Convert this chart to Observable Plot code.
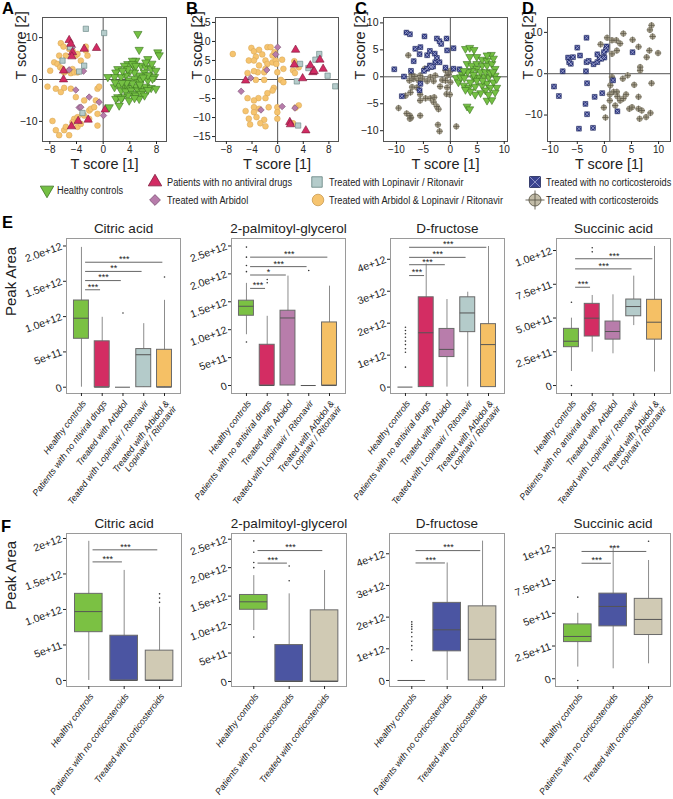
<!DOCTYPE html>
<html><head><meta charset="utf-8">
<script src="https://cdn.jsdelivr.net/npm/d3@7"></script>
<script src="https://cdn.jsdelivr.net/npm/@observablehq/plot@0.6"></script>
<style>
body{margin:0;background:#fff;font-family:"Liberation Sans",Arial,sans-serif;}
#fig{position:relative;width:673px;height:799px;overflow:hidden;background:#fff;}
.abs{position:absolute;}
</style></head>
<body><div id="fig"></div>
<script>
// ---------------- DATA ----------------
// Panel A (OPLS-DA scores: antiviral groups + healthy)
const A_healthy = [[5.2,10.9],[5.4,7.1],[8.2,6.5],[6.7,4.9],[4.9,4.5],[3.7,3.7],[4.4,4.5],[3.2,3.3],[2.2,2.5],[1.9,1.7],[4.7,2.9],[5.7,3.3],[6.4,2.9],[7.2,2.5],[7.9,2.1],[6.2,1.7],[6.9,1.0],[7.7,0.6],[5.4,1.0],[4.7,1.7],[3.9,1.7],[3.4,1.0],[2.7,0.6],[1.7,0.6],[0.7,0.6],[3.9,-0.2],[4.7,0.2],[5.2,-0.6],[5.7,-0.2],[6.7,-0.2],[7.4,0.2],[1.7,-1.8],[2.4,-1.4],[3.2,-1.7],[3.7,-2.0],[4.4,-2.0],[4.9,-1.7],[5.7,-2.0],[6.4,-1.7],[7.2,-2.0],[7.9,-2.2],[2.7,-2.6],[3.4,-2.8],[4.2,-2.6],[5.2,-2.6],[5.9,-2.8],[6.7,-2.5],[4.4,-3.4],[3.7,-3.8],[2.9,-4.2],[2.2,-4.2],[1.9,-4.6],[2.7,-4.6],[4.9,-3.8],[5.7,-3.4],[6.2,-3.8],[5.4,-4.6],[3.9,-5.0],[0.9,-6.6],[2.4,-6.2],[4.7,-4.4],[6.7,1.0],[4.4,3.7],[4.9,3.3],[3.7,2.5],[2.9,2.1],[6.0,0.5],[4.4,-0.9],[3.5,-0.8],[2.8,-0.8],[1.8,-0.7],[5.5,-1.2],[8.4,5.8],[7.3,3.8],[6.4,4.1]];
const A_noAntiviral = [[-5.1,9.4],[-4.85,8.5],[-4.6,6.5],[-4.7,5.5],[-2.85,7.3],[-1.0,7.5],[-5.95,2.1],[-5.95,0],[-4.75,-11.2],[-3.75,-9.9],[-2.25,-9.6],[0.3,-7.2]];
const A_arbidol = [[-4.6,7.7],[-2.95,2.0],[-4.1,-2.5],[-2.1,-4.2],[-3.6,-6.7],[-3.35,-6.6],[-0.6,-5.4],[0.05,-8.6],[-5.1,2.3]];
const A_lpv = [[-2.6,12.1],[0.15,11.1],[-4.95,7.7],[-6.1,4.5],[-2.85,3.3],[-3.6,1.9],[-3.1,-8.0]];
const A_arbLpv = [[-6.35,8.65],[-5.95,7.85],[-5.1,7.3],[-4.6,6.9],[-4.1,5.7],[-3.85,6.1],[-2.6,7.85],[-2.6,6.9],[-2.35,5.7],[-3.35,4.5],[-6.6,5.7],[-5.6,5.7],[-7.35,4.1],[-6.85,3.7],[-6.45,2.9],[-6.1,2.5],[-5.85,1.7],[-5.1,2.1],[-4.6,2.5],[-4.85,1.5],[-4.35,1.7],[-3.85,1.7],[-7.95,2.1],[-8.35,-1.7],[-7.1,-2.2],[-6.35,-3.0],[-5.85,-2.0],[-4.85,-2.2],[-4.1,-4.2],[-2.85,-5.0],[-2.1,-7.4],[-1.85,-7.0],[-1.35,-6.6],[-0.85,-2.2],[-0.6,-1.7],[-1.1,-5.0],[-0.85,-8.2],[-4.35,-9.4],[-4.6,-10.2],[-3.1,-8.2],[-2.85,-8.6],[-3.85,-9.0],[-7.6,-9.9],[-7.1,-12.1],[-6.6,-13.3],[-5.85,-12.1],[-5.1,-13.3],[-5.6,-11.3],[-3.85,-11.3],[-2.1,-9.4],[-0.85,-11.0],[-3.35,-10.6]];

// Panel B (patients only, antiviral groups)
const B_noAntiviral = [[2.8,7.8],[2.6,3.9],[3.9,0.3],[5.1,3.7],[5.5,1.9],[5.7,2.2],[7.1,2.8],[6.6,5.2],[1.9,-11.2],[2.0,-11.8],[4.4,-13.4],[-5.0,-0.3]];
const B_arbidol = [[0,8.5],[-0.3,6.6],[-1.7,2.5],[-4.2,0.4],[-5.7,-3.1],[-2.6,-8.0],[0.7,-7.1],[2.7,-7.5]];
const B_lpv = [[6.5,6.7],[5.9,5.2],[3.5,4.1],[4.8,3.0],[7.8,1.0],[3.0,-0.5],[9.0,-1.8],[3.2,-12.1]];
const B_arbLpv = [[-7.0,6.7],[-4.1,8.3],[-3.7,7.4],[-2.9,7.8],[-3.4,6.0],[-4.5,5.0],[-3.7,5.0],[-2.4,6.6],[-1.6,8.5],[-1.1,8.5],[-0.8,6.3],[-0.5,7.2],[-1.9,5.0],[-2.9,3.7],[-1.6,4.1],[-0.8,4.5],[-0.3,5.0],[-0.2,4.1],[0.7,5.2],[0.9,2.8],[-0.05,1.9],[0.5,-0.1],[-1.9,2.8],[-2.1,1.9],[-3.1,1.9],[-3.7,2.2],[-4.7,1.7],[-3.4,-0.1],[-2.1,-0.1],[0.9,-0.7],[-0.6,-2.2],[-0.8,-2.9],[-1.6,-3.6],[-1.9,-4.9],[-3.0,-4.9],[-4.7,-4.9],[-3.7,-5.5],[-3.7,-7.3],[-2.9,-7.7],[-3.7,-8.6],[-5.0,-8.3],[-3.3,-9.9],[-4.5,-10.3],[-4.3,-11.8],[-2.1,-10.6],[-2.7,-11.5],[-1.9,-12.3],[-1.4,-7.3],[-0.05,-7.3],[-0.05,-8.6],[3.3,-6.8],[2.8,-7.4],[3.3,3.2],[2.4,2.4],[2.7,1.7],[2.6,4.8],[2.4,-11.5],[-0.05,-10.3]];

// Panel C (corticosteroid groups + healthy)
const C_healthy = [[2.8,5.2],[3.6,5.4],[4.4,5.0],[7.6,4.1],[4.9,3.7],[5.9,3.2],[6.8,3.0],[3.1,2.4],[4.0,2.1],[4.9,2.4],[5.9,2.1],[6.8,2.1],[7.7,2.4],[8.3,1.5],[4.9,1.5],[4.0,1.1],[3.2,0.9],[2.2,0.4],[1.1,-0.2],[1.5,-1.0],[2.5,-1.6],[3.4,-2.0],[4.6,-1.8],[5.9,-1.6],[6.8,-1.2],[8.0,-1.0],[7.1,-0.06],[6.2,0.06],[5.2,-0.06],[4.3,-0.2],[5.6,0.9],[6.5,0.9],[7.4,0.7],[8.3,0.25],[8.6,-0.4],[8.6,-2.0],[7.4,-2.0],[6.5,-2.5],[5.6,-3.0],[4.6,-3.3],[3.7,-2.7],[2.8,-2.4],[3.1,-5.5],[3.6,-6.0],[6.8,-4.4],[7.7,-4.3],[7.1,-3.3],[8.3,-2.9],[4.9,-0.7],[3.7,-1.0],[1.9,-0.06],[2.5,1.1],[6.8,4.0],[8.0,3.4],[3.6,3.7],[2.6,-0.2],[4.3,0.4],[6.0,-0.7],[7.9,0.9]];
const C_noCort = [[-8.15,8.2],[-7.5,7.9],[-4.8,7.5],[-5.55,5.5],[-6.5,5.2],[-5.7,4.2],[-4.3,4.0],[-6.8,2.9],[-3.8,4.8],[-2.5,7.1],[-2.0,6.6],[-1.7,6.1],[-0.7,7.1],[-2.9,4.3],[-2.5,3.5],[-2.8,2.7],[-3.8,2.1],[-4.3,1.5],[-4.9,1.1],[-3.6,1.8],[-3.2,1.9],[-7.3,1.1],[-10.4,1.4],[-8.6,0.05],[-5.55,-1.3],[-5.7,-2.5],[-9.0,-3.6],[-0.6,4.9],[0.6,5.3],[-2.0,2.7],[-0.9,1.7],[0.6,1.5],[1.7,1.4]];
const C_cort = [[-7.8,4.0],[-7.2,0.4],[-6.9,-0.4],[-7.6,-0.7],[-5.9,-0.7],[-5.2,-0.4],[-4.3,-0.8],[-3.1,-0.8],[-1.5,-0.6],[-0.9,-0.7],[-6.2,-2.0],[-7.1,-1.9],[-7.4,-2.9],[-8.3,-3.5],[-9.6,-5.8],[-8.1,-6.8],[-7.5,-7.2],[-7.3,-7.6],[-7.5,-7.8],[-5.6,-7.2],[-5.6,-4.4],[-4.6,-4.0],[-3.7,-4.0],[-3.0,-3.8],[-3.1,-4.7],[-2.5,-5.5],[-2.2,-6.0],[-5.6,-3.3],[-0.6,-2.0],[-0.7,-3.2],[-0.1,-3.3],[0,1.1],[-0.3,0.4],[-1.9,-1.8],[-2.3,-8.9],[-2.0,-10.1],[1.1,-9.2],[-6.6,0.06],[-4.75,1.5],[-5.6,0.25],[-3.7,-0.06],[-2.8,0.25],[-0.9,1.2],[-0.6,0.25],[0,-1.0]];

// Panel D (patients only, corticosteroid groups)
const D_noCort = [[-5.0,6.3],[-5.8,4.0],[-6.7,3.9],[-6.5,2.8],[-6.2,2.4],[-7.7,0.6],[-4.5,4.4],[-3.4,0.6],[-3.3,2.8],[-2.9,3.1],[-2.0,2.3],[-1.3,2.8],[-0.9,3.9],[-1.3,4.7],[-0.6,3.6],[0,3.9],[0.4,6.6],[0.3,5.8],[5.2,5.2],[-3.3,8.7],[-9.3,-3.1],[-8.4,-5.4],[-3.2,-2.3],[-3.5,-7.3],[-3.2,-9.8],[-1.8,-5.6],[-0.4,-4.7],[1.6,-1.6],[2.4,-9.1],[-4.7,-13.3],[-2.1,-13.1],[-0.1,5.2]];
const D_cort = [[0.5,8.7],[1.4,8.1],[3.5,9.7],[5.2,8.2],[8.7,11.7],[8.4,10.6],[8.9,9.0],[8.3,5.6],[9.9,5.0],[6.3,6.5],[7.8,4.0],[6.6,1.6],[6.6,0.8],[8.7,-2.3],[4.3,-0.4],[3.4,-1.2],[1.4,-0.8],[1.1,-2.8],[1.7,-4.4],[1.0,-5.0],[2.3,-4.4],[2.4,-5.5],[2.9,-6.5],[3.5,-6.0],[4.0,-5.0],[4.6,-8.5],[5.1,-8.1],[6.3,-8.5],[6.9,-8.9],[6.5,-10.9],[7.7,-10.5],[8.5,-9.5],[6.3,-5.6],[-0.1,-8.2],[0.2,-10.6],[-0.7,7.1],[2.3,5.6],[1.4,4.8],[2.9,7.3],[2.2,8.1],[2.0,-7.7],[1.0,-6.5],[5.5,-2.7]];
const D_cross = [1, 0];

// Box-plot panels: rows = categories, [whiskerLow, Q1, median, Q3, whiskerHigh]
const eCats = [0, 1, 2, 3, 4];
const eColors = ["#7bc143", "#d32d63", "#b87dab", "#b4cbca", "#f5c065"];
const eLabelsCitric = ["Healthy controls", "Patients with no ntiviral drugs", "Treated with Arbidol", "Teated with Lopinavir / Ritonavir", "Treated with Arbidol &\nLopinavir / Ritonavir"];
const eLabels = ["Healthy controls", "Patients with no antiviral drugs", "Treated with Arbidol", "Teated with Lopinavir / Ritonavir", "Treated with Arbidol &\nLopinavi / Ritonavir"];

const eCitricBox = [[0, 0.686e12, 0.977e12, 1.228e12, 1.98e12], [0, 0, 0, 0.65e12, 0.99e12], [0, 0, 0, 0, 0], [0, 0, 0.46e12, 0.54e12, 0.9e12], [0, 0, 0, 0.53e12, 1.23e12]];
const eCitricOut = [[2, 1.05e12], [4, 1.56e12]];
const eCitricSig = [[0, 4, 1.77e12, "***"], [0, 3, 1.64e12, "**"], [0, 2, 1.51e12, "***"], [0, 1, 1.38e12, "***"]];
const eCitricYTicks = [0, 5e11, 1e12, 1.5e12, 2e12];
const eCitricYLabels = ["0", "5e+11", "1.0e+12", "1.5e+12", "2.0e+12"];

const ePalmBox = [[0.91e12, 1.25e12, 1.42e12, 1.52e12, 1.83e12], [0, 0, 0, 0.73e12, 1.24e12], [0, 0, 1.21e12, 1.34e12, 1.96e12], [0, 0, 0, 0, 0], [0, 0, 0, 1.13e12, 1.78e12]];
const ePalmOut = [[0, 2.48e12], [0, 2.30e12], [0, 2.15e12], [0, 2.04e12], [0, 0.78e12], [1, 1.9e12], [1, 1.84e12], [3, 2.06e12]];
const ePalmSig = [[0, 4, 2.30e12, "***"], [0, 3, 2.13e12, "***"], [0, 2, 1.98e12, "*"], [0, 1, 1.74e12, "***"]];
const ePalmYTicks = [0, 5e11, 1e12, 1.5e12, 2e12, 2.5e12];
const ePalmYLabels = ["0", "5e+11", "1.0e+12", "1.5e+12", "2.0e+12", "2.5e+12"];

const eFrucBox = [[0, 0, 0, 0, 0], [0, 0, 1.7e12, 2.81e12, 3.85e12], [0, 0.94e12, 1.18e12, 1.82e12, 2.74e12], [0, 1.72e12, 2.32e12, 2.81e12, 2.97e12], [0, 0, 1.33e12, 1.97e12, 4.4e12]];
const eFrucOut = [[0, 1.875e12], [0, 1.77e12], [0, 1.67e12], [0, 1.56e12], [0, 1.44e12], [0, 1.33e12], [0, 1.2e12], [0, 1.09e12], [0, 0.625e12]];
const eFrucSig = [[0, 4, 4.375e12, "***"], [0, 3, 4.06e12, "***"], [0, 2, 3.83e12, "***"], [0, 1, 3.49e12, "***"]];
const eFrucYTicks = [0, 1e12, 2e12, 3e12, 4e12];
const eFrucYLabels = ["0", "1e+12", "2e+12", "3e+12", "4e+12"];

const eSuccBox = [[0.104e12, 0.284e12, 0.328e12, 0.42e12, 0.499e12], [0.247e12, 0.363e12, 0.499e12, 0.605e12, 0.667e12], [0.235e12, 0.34e12, 0.4e12, 0.474e12, 0.672e12], [0.444e12, 0.513e12, 0.585e12, 0.637e12, 0.81e12], [0.1e12, 0.34e12, 0.469e12, 0.635e12, 1.03e12]];
const eSuccOut = [[0, 0.617e12], [0, 0], [1, 1.02e12], [1, 0.99e12]];
const eSuccSig = [[0, 4, 0.939e12, "***"], [0, 3, 0.864e12, "***"], [0, 1, 0.728e12, "***"]];
const eSuccYTicks = [0, 2.5e11, 5e11, 7.5e11, 1e12];
const eSuccYLabels = ["0", "2.5e+11", "5.0e+11", "7.5e+11", "1.0e+12"];

const fCats = [0, 1, 2];
const fColors = ["#7bc143", "#4b55a2", "#d0cab4"];
const fLabels = ["Healthy controls", "Patients with no corticosteroids", "Treated with corticosteroids"];

const fCitricBox = [[0, 0.68e12, 0.97e12, 1.22e12, 1.96e12], [0, 0, 0, 0.63e12, 1.55e12], [0, 0, 0, 0.42e12, 1.03e12]];
const fCitricOut = [[2, 1.22e12], [2, 1.16e12], [2, 1.10e12]];
const fCitricSig = [[0, 2, 1.84e12, "***"], [0, 1, 1.67e12, "***"]];
const fCitricYTicks = [0, 5e11, 1e12, 1.5e12, 2e12];
const fCitricYLabels = ["0", "5e+11", "1.0e+12", "1.5e+12", "2e+12"];

const fPalmBox = [[0.895e12, 1.26e12, 1.40e12, 1.52e12, 1.86e12], [0, 0, 0, 0.64e12, 1.54e12], [0, 0, 0, 1.25e12, 1.95e12]];
const fPalmOut = [[0, 2.47e12], [0, 2.27e12], [0, 2.09e12], [0, 2.0e12], [0, 0.78e12], [1, 2.03e12], [1, 1.77e12]];
const fPalmSig = [[0, 2, 2.3e12, "***"], [0, 1, 2.08e12, "***"]];
const fPalmYTicks = [0, 5e11, 1e12, 1.5e12, 2e12, 2.5e12];
const fPalmYLabels = ["0", "5e+11", "1.0e+12", "1.5e+12", "2.0e+12", "2.5e+12"];

const fFrucBox = [[0, 0, 0, 0, 0], [0, 0.92e12, 1.6e12, 2.45e12, 3.71e12], [0, 0, 1.3e12, 2.34e12, 4.4e12]];
const fFrucOut = [[0, 1.85e12], [0, 1.77e12], [0, 1.7e12], [0, 1.62e12], [0, 1.52e12], [0, 1.38e12], [0, 1.24e12], [0, 1.1e12], [0, 0.97e12], [0, 0.63e12]];
const fFrucSig = [[0, 2, 4.1e12, "***"], [0, 1, 3.71e12, "***"]];
const fFrucYTicks = [0, 1e12, 2e12, 3e12, 4e12];
const fFrucYLabels = ["0", "1e+12", "2e+12", "3e+12", "4e+12"];

const fSuccBox = [[0.089e12, 0.28e12, 0.323e12, 0.415e12, 0.5e12], [0.076e12, 0.4e12, 0.552e12, 0.65e12, 1.01e12], [0.114e12, 0.334e12, 0.453e12, 0.61e12, 0.903e12]];
const fSuccOut = [[0, 0.623e12], [0, -0.013e12], [2, 1.05e12]];
const fSuccSig = [[0, 2, 0.972e12, "***"], [0, 1, 0.882e12, "***"]];
const fSuccYTicks = [0, 2.5e11, 5e11, 7.5e11, 1e12];
const fSuccYLabels = ["0", "2.5e+11", "5e+11", "7.5e+11", "1e+12"];

const titles = ["Citric acid", "2-palmitoyl-glycerol", "D-fructose", "Succinic acid"];
const legendItems = [
  ["Healthy controls", "healthy"],
  ["Patients with no antiviral drugs", "noAntiviral"],
  ["Treated with Arbidol", "arbidol"],
  ["Treated with Lopinavir / Ritonavir", "lpv"],
  ["Treated with Arbidol & Lopinavir / Ritonavir", "arbLpv"],
  ["Treated with no corticosteroids", "noCort"],
  ["Treated with corticosteroids", "cort"]
];

// ---------------- DRAWING ----------------
const fig = document.getElementById("fig");
const X = d => d[0], Y = d => d[1];
const baseStyle = {background: "transparent", overflow: "visible", maxWidth: "none", color: "#222", fontFamily: "'Liberation Sans', Arial, sans-serif"};

function place(node, left, top) {
  const d = document.createElement("div");
  d.className = "abs";
  d.style.left = left + "px";
  d.style.top = top + "px";
  d.appendChild(node);
  fig.appendChild(d);
}

const sym = {
  healthy: (d, s) => [Plot.dot(d, {x: X, y: Y, symbol: "triangle", rotate: 180, r: 3.1 * s, fill: "#74c043", stroke: "#3c7421", strokeWidth: 0.6})],
  noAntiviral: (d, s) => [Plot.dot(d, {x: X, y: Y, symbol: "triangle", r: 3.1 * s, fill: "#d22b63", stroke: "#7d1a3b", strokeWidth: 0.6})],
  arbidol: (d, s) => [Plot.dot(d, {x: X, y: Y, symbol: "square", rotate: 45, r: 2.6 * s, fill: "#b77cab", stroke: "#7f5577", strokeWidth: 0.6})],
  lpv: (d, s) => [Plot.dot(d, {x: X, y: Y, symbol: "square", r: 3.0 * s, fill: "#b5cccb", stroke: "#62807d", strokeWidth: 0.6})],
  arbLpv: (d, s) => [Plot.dot(d, {x: X, y: Y, symbol: "circle", r: 2.9 * s, fill: "#f6c46f", stroke: "#d4a457", strokeWidth: 0.5})],
  noCort: (d, s) => [Plot.dot(d, {x: X, y: Y, symbol: "square", r: 2.9 * s, fill: "#2f3984", stroke: "#1d2455", strokeWidth: 0.5}),
                     Plot.dot(d, {x: X, y: Y, symbol: "times", r: 2.1 * s, fill: "none", stroke: "#a7acd2", strokeWidth: 0.8})],
  cort: (d, s) => [Plot.dot(d, {x: X, y: Y, symbol: "circle", r: 2.9 * s, fill: "#aca591", stroke: "#7d7868", strokeWidth: 0.5}),
                   Plot.dot(d, {x: X, y: Y, symbol: "plus", r: 2.3 * s, fill: "none", stroke: "#5e594a", strokeWidth: 0.8})]
};

function scatter(o) {
  const ML = 48, MR = 6, MT = 6, MB = 36;
  const marks = [
    Plot.ruleX([o.cross[0]], {stroke: "#555", strokeWidth: 1}),
    Plot.ruleY([o.cross[1]], {stroke: "#555", strokeWidth: 1}),
    ...o.layers,
    Plot.frame({stroke: "#555"}),
    Plot.axisX({ticks: o.xTicks, tickSize: 3, tickPadding: 1, fontSize: 10, label: null}),
    Plot.axisY({ticks: o.yTicks, tickSize: 3, tickPadding: 2, fontSize: 10.5, label: null}),
    Plot.text(["T score [1]"], {text: d => d, frameAnchor: "bottom", lineAnchor: "middle", dy: 23, fontSize: 14.5}),
    Plot.text(["T score [2]"], {text: d => d, frameAnchor: "left", lineAnchor: "middle", dx: o.ylabDx, rotate: -90, fontSize: 14.5})
  ];
  const svg = Plot.plot({
    width: ML + o.w + MR, height: MT + o.h + MB,
    marginLeft: ML, marginRight: MR, marginTop: MT, marginBottom: MB,
    x: {domain: o.xDomain}, y: {domain: o.yDomain},
    style: baseStyle, marks
  });
  place(svg, o.left - ML, o.top - MT);
}

function boxPanel(o) {
  const ML = 62, MR = 8, MT = 26, MB = 140;
  const rows = o.box.map((b, i) => ({i, lo: b[0], q1: b[1], med: b[2], q3: b[3], hi: b[4]}));
  const hw = o.hw;
  const marks = [
    Plot.ruleX(rows, {x: "i", y1: "lo", y2: "hi", stroke: "#8c8c8c", strokeWidth: 1}),
    Plot.rect(rows, {x1: d => d.i - hw, x2: d => d.i + hw, y1: "q1", y2: "q3", fill: d => o.colors[d.i], stroke: "#6a6a6a", strokeWidth: 1}),
    Plot.ruleY(rows, {y: "med", x1: d => d.i - hw, x2: d => d.i + hw, stroke: "#555", strokeWidth: 1}),
    Plot.dot(o.out, {x: X, y: Y, r: 0.8, fill: "#333"}),
    Plot.ruleY(o.sig, {y: d => d[2], x1: d => d[0] + o.s0, x2: d => d[1] + o.s1, stroke: "#666", strokeWidth: 1}),
    Plot.text(o.sig, {x: d => (d[0] + o.s0 + d[1] + o.s1) / 2, y: d => d[2], text: d => d[3], dy: -3, fontSize: 9}),
    Plot.frame({stroke: "#9a9a9a"}),
    Plot.axisY({ticks: o.yTicks, tickFormat: d => o.yLabels[o.yTicks.indexOf(d)], tickRotate: -20, textAnchor: "end", lineAnchor: "middle", tickSize: 3, tickPadding: 2, fontSize: 10.5, label: null}),
    Plot.axisX({ticks: o.cats, tickFormat: i => o.labels[i], tickRotate: -53, textAnchor: "end", lineAnchor: "top", tickSize: 3, tickPadding: 3, fontSize: 9, fontStyle: "italic", label: null}),
    Plot.text([o.title], {text: d => d, frameAnchor: "top", lineAnchor: "middle", dy: -10, fontSize: 13.5})
  ];
  if (o.ylabel) marks.push(Plot.text([o.ylabel], {text: d => d, frameAnchor: "left", lineAnchor: "middle", dx: -55, rotate: -90, fontSize: 15}));
  const svg = Plot.plot({
    width: ML + o.w + MR, height: MT + o.h + MB,
    marginLeft: ML, marginRight: MR, marginTop: MT, marginBottom: MB,
    x: {domain: o.xDomain}, y: {domain: o.yDomain},
    color: {type: "identity"},
    style: baseStyle, marks
  });
  place(svg, o.left - ML, o.top - MT);
}

// Row 1: score plots
scatter({left: 42, top: 17, w: 124, h: 124, xDomain: [-9.1, 9.5], yDomain: [-14.8, 14.8], xTicks: [-8, -4, 0, 4, 8], yTicks: [-10, 0, 10], cross: [0, 0], ylabDx: -21,
  layers: [...sym.arbLpv(A_arbLpv, 1), ...sym.arbidol(A_arbidol, 1), ...sym.lpv(A_lpv, 1), ...sym.noAntiviral(A_noAntiviral, 1), ...sym.healthy(A_healthy, 1)]});
scatter({left: 215, top: 17, w: 123, h: 124, xDomain: [-9.7, 9.5], yDomain: [-16.3, 16.3], xTicks: [-8, -4, 0, 4, 8], yTicks: [-15, -10, -5, 0, 5, 10, 15], cross: [0, 0], ylabDx: -18,
  layers: [...sym.arbLpv(B_arbLpv, 1), ...sym.arbidol(B_arbidol, 1), ...sym.lpv(B_lpv, 1), ...sym.noAntiviral(B_noAntiviral, 1)]});
scatter({left: 383, top: 17, w: 124, h: 124, xDomain: [-12.4, 10.6], yDomain: [-12.0, 11.0], xTicks: [-10, -5, 0, 5, 10], yTicks: [-10, -5, 0, 5, 10], cross: [0, 0], ylabDx: -23,
  layers: [...sym.cort(C_cort, 0.95), ...sym.noCort(C_noCort, 0.95), ...sym.healthy(C_healthy, 0.95)]});
scatter({left: 547, top: 17, w: 123, h: 124, xDomain: [-10.5, 12.2], yDomain: [-16.4, 13.6], xTicks: [-10, -5, 0, 5, 10], yTicks: [-10, 0, 10], cross: D_cross, ylabDx: -19,
  layers: [...sym.cort(D_cort, 0.95), ...sym.noCort(D_noCort, 0.95)]});

// Row E
const eCommon = {cats: eCats, colors: eColors, w: 114, h: 155, top: 238, xDomain: [-0.72, 4.77], hw: 0.36, s0: 0.2, s1: -0.08};
boxPanel({...eCommon, left: 66, labels: eLabelsCitric, box: eCitricBox, out: eCitricOut, sig: eCitricSig, yTicks: eCitricYTicks, yLabels: eCitricYLabels, yDomain: [-0.089e12, 2.106e12], title: titles[0], ylabel: "Peak Area"});
boxPanel({...eCommon, left: 231, labels: eLabels, box: ePalmBox, out: ePalmOut, sig: ePalmSig, yTicks: ePalmYTicks, yLabels: ePalmYLabels, yDomain: [-0.143e12, 2.634e12], title: titles[1]});
boxPanel({...eCommon, left: 390, labels: eLabels, box: eFrucBox, out: eFrucOut, sig: eFrucSig, yTicks: eFrucYTicks, yLabels: eFrucYLabels, yDomain: [-0.2e12, 4.65e12], title: titles[2]});
boxPanel({...eCommon, left: 556, labels: eLabels, box: eSuccBox, out: eSuccOut, sig: eSuccSig, yTicks: eSuccYTicks, yLabels: eSuccYLabels, yDomain: [-0.059e12, 1.089e12], title: titles[3]});

// Row F
const fCommon = {cats: fCats, colors: fColors, labels: fLabels, w: 115, h: 153, top: 533, xDomain: [-0.63, 2.62], hw: 0.39, s0: 0.12, s1: -0.05};
boxPanel({...fCommon, left: 66, box: fCitricBox, out: fCitricOut, sig: fCitricSig, yTicks: fCitricYTicks, yLabels: fCitricYLabels, yDomain: [-0.085e12, 2.07e12], title: titles[0], ylabel: "Peak Area"});
boxPanel({...fCommon, left: 231, box: fPalmBox, out: fPalmOut, sig: fPalmSig, yTicks: fPalmYTicks, yLabels: fPalmYLabels, yDomain: [-0.088e12, 2.6e12], title: titles[1]});
boxPanel({...fCommon, left: 389, box: fFrucBox, out: fFrucOut, sig: fFrucSig, yTicks: fFrucYTicks, yLabels: fFrucYLabels, yDomain: [-0.19e12, 4.64e12], title: titles[2]});
boxPanel({...fCommon, left: 555, box: fSuccBox, out: fSuccOut, sig: fSuccSig, yTicks: fSuccYTicks, yLabels: fSuccYLabels, yDomain: [-0.059e12, 1.109e12], title: titles[3]});

// Overlay: panel letters and legend
const ov = d3.create("svg").attr("width", 673).attr("height", 799)
  .style("position", "absolute").style("left", "0px").style("top", "0px").style("pointer-events", "none")
  .attr("font-family", "'Liberation Sans', Arial, sans-serif");
[["A", 2, 14], ["B", 186, 14], ["C", 355, 14], ["D", 522, 14], ["E", 2, 228], ["F", 1, 532]].forEach(([t, x, y]) =>
  ov.append("text").attr("x", x).attr("y", y).attr("font-weight", "bold").attr("font-size", 16.5).text(t));

const legPos = {healthy: [47, 190, 57], noAntiviral: [155, 182, 167], arbidol: [155, 200, 167], lpv: [317, 182, 329], arbLpv: [318, 200, 329], noCort: [535, 182, 546], cort: [535, 200, 546]};
const legStyle = {
  healthy: g => g.append("path").attr("d", d3.symbol(d3.symbolTriangle, 78)()).attr("transform", "rotate(180)").attr("fill", "#74c043").attr("stroke", "#3c7421").attr("stroke-width", 0.8),
  noAntiviral: g => g.append("path").attr("d", d3.symbol(d3.symbolTriangle, 78)()).attr("fill", "#d22b63").attr("stroke", "#7d1a3b").attr("stroke-width", 0.8),
  arbidol: g => g.append("path").attr("d", d3.symbol(d3.symbolSquare, 58)()).attr("transform", "rotate(45)").attr("fill", "#b77cab").attr("stroke", "#7f5577").attr("stroke-width", 0.8),
  lpv: g => g.append("path").attr("d", d3.symbol(d3.symbolSquare, 110)()).attr("fill", "#b5cccb").attr("stroke", "#62807d").attr("stroke-width", 0.8),
  arbLpv: g => g.append("path").attr("d", d3.symbol(d3.symbolCircle, 105)()).attr("fill", "#f6c46f").attr("stroke", "#c99b50").attr("stroke-width", 0.8),
  noCort: g => { g.append("path").attr("d", d3.symbol(d3.symbolSquare, 120)()).attr("fill", "#3a4390").attr("stroke", "#1d2455").attr("stroke-width", 0.8);
                 g.append("path").attr("d", d3.symbol(d3.symbolTimes, 90)()).attr("fill", "none").attr("stroke", "#8d93c4").attr("stroke-width", 1); },
  cort: g => { g.append("path").attr("d", d3.symbol(d3.symbolCircle, 115)()).attr("fill", "#c2bca8").attr("stroke", "#5e594a").attr("stroke-width", 0.9);
               g.append("path").attr("d", d3.symbol(d3.symbolPlus, 120)()).attr("fill", "none").attr("stroke", "#5e594a").attr("stroke-width", 0.9); }
};
legendItems.forEach(([label, key]) => {
  const [mx, my, tx] = legPos[key];
  legStyle[key](ov.append("g").attr("transform", `translate(${mx},${my})`));
  ov.append("g").attr("transform", `translate(${tx},${my + 4}) scale(0.84,1)`)
    .append("text").attr("font-size", 11).attr("fill", "#222").text(label);
});
fig.appendChild(ov.node());
</script>
</body></html>
